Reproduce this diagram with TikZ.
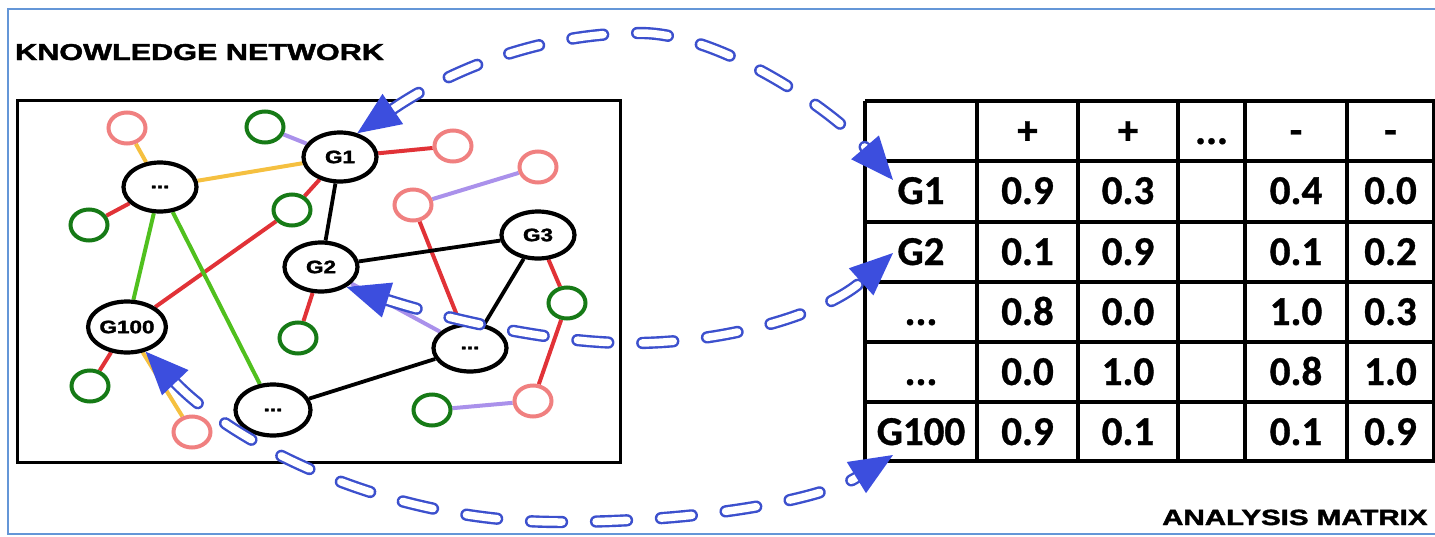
\documentclass[tikz,border=0pt]{standalone}
\usepackage{fontspec}
\usetikzlibrary{shapes.geometric,arrows.meta}
\newfontfamily\lsans{Liberation Sans}[FakeBold=1.6]
\newfontfamily\tabfont{Carlito}[FakeBold=0.8]
\definecolor{cpink}{RGB}{240,128,128}
\definecolor{cdgreen}{RGB}{22,122,22}
\definecolor{cred}{RGB}{225,50,55}
\definecolor{cyellow}{RGB}{245,192,64}
\definecolor{clav}{RGB}{170,145,235}
\definecolor{cgreen}{RGB}{80,192,30}
\definecolor{cablue}{RGB}{60,80,205}
\definecolor{chead}{RGB}{60,78,222}
\definecolor{cframe}{RGB}{100,150,215}
\pgfdeclarelayer{background}
\pgfsetlayers{background,main}
\begin{document}
\begin{tikzpicture}[x=1pt,y=-1pt,
  big/.style={ellipse, draw=black, line width=4.2pt, fill=white, inner sep=0pt,
    minimum width=73pt, minimum height=49pt,
    font=\lsans\bfseries\fontsize{18}{18}\selectfont},
  small/.style={ellipse, line width=4pt, fill=white, inner sep=0pt,
    minimum width=37pt, minimum height=31pt},
  pinknode/.style={small, draw=cpink},
  greennode/.style={small, draw=cdgreen},
  eblack/.style={draw=black, line width=3.8pt},
  ered/.style={draw=cred, line width=4pt},
  eyellow/.style={draw=cyellow, line width=4pt},
  elav/.style={draw=clav, line width=4pt},
  egreen/.style={draw=cgreen, line width=4pt},
  link/.style={draw=cablue, line width=2.4pt, double=white, double distance=7.5pt,
    dash pattern=on 31pt off 34pt, line cap=round,
    {Triangle[length=43pt,width=36pt,color=chead]}-{Triangle[length=43pt,width=36pt,color=chead]}},
  title/.style={font=\lsans\bfseries, inner sep=0pt, anchor=base west},
  cell/.style={font=\tabfont\bfseries\fontsize{41}{41}\selectfont, inner sep=0pt, anchor=base},
  tabline/.style={draw=black, line width=3.3pt}
]
\useasboundingbox (0,0) rectangle (1435,536);
% outer frame
\draw[cframe, line width=1.6pt] (8,9) rectangle (1450,534);
% titles
\node[title] (kn) at (15,60) {\fontsize{23}{23}\selectfont\scalebox{1.33}[1]{KNOWLEDGE NETWORK}};
\node[title] (am) at (1162,525) {\fontsize{22}{22}\selectfont\scalebox{1.34}[1]{ANALYSIS MATRIX}};
% network box
\draw[black, line width=3pt] (17,100) rectangle (620,462);
% big nodes
\node[big] (dTL) at (160,187) {\scalebox{1.25}[1]{...}};
\node[big] (G1) at (340,157) {\scalebox{1.25}[1]{G1}};
\node[big] (G2) at (321,267) {\scalebox{1.25}[1]{G2}};
\node[big, minimum height=47pt] (G3) at (538,235) {\scalebox{1.25}[1]{G3}};
\node[big, minimum width=76pt, minimum height=51pt] (G100) at (127,327) {\scalebox{1.25}[1]{G100}};
\node[big, minimum width=75pt, minimum height=51pt] (dB) at (273,410) {\scalebox{1.25}[1]{...}};
\node[big, minimum height=47pt] (dR) at (470,348) {\scalebox{1.25}[1]{...}};
% small nodes
\node[pinknode] (pk1) at (127,128) {};
\node[greennode] (gr1) at (265,127) {};
\node[greennode] (gr2) at (89,225) {};
\node[greennode] (gr3) at (292,210) {};
\node[pinknode] (pk2) at (453,146) {};
\node[pinknode] (pk3) at (538,167) {};
\node[pinknode] (pk4) at (413,205) {};
\node[greennode] (gr4) at (298,338) {};
\node[greennode] (gr5) at (90,386) {};
\node[pinknode] (pk5) at (192,432) {};
\node[greennode] (gr6) at (567,303) {};
\node[pinknode] (pk6) at (533,401) {};
\node[greennode] (gr7) at (432,410) {};
% edges
\begin{pgfonlayer}{background}
\draw[eyellow] (pk1) -- (dTL);
\draw[eyellow] (dTL) -- (G1);
\draw[eyellow] (G100) -- (pk5);
\draw[elav] (gr1) -- (G1);
\draw[elav] (pk4) -- (pk3);
\draw[elav] (G2) -- (dR);
\draw[elav] (gr7) -- (pk6);
\draw[ered] (gr2) -- (dTL);
\draw[ered] (G1) -- (gr3);
\draw[ered] (gr3) -- (G100);
\draw[ered] (G1) -- (pk2);
\draw[ered] (pk4) -- (dR);
\draw[ered] (G3) -- (gr6);
\draw[ered] (gr6) -- (pk6);
\draw[ered] (G2) -- (gr4);
\draw[ered] (G100) -- (gr5);
\draw[egreen] (dTL) -- (G100);
\draw[egreen] (dTL) -- (dB);
\draw[eblack] (G1) -- (G2);
\draw[eblack] (G2) -- (G3);
\draw[eblack] (G3) -- (dR);
\draw[eblack] (dB) -- (dR);
\end{pgfonlayer}
% table grid
\foreach \yy in {101,161,222,282,342,402,461} \draw[tabline] (865,\yy) -- (1440,\yy);
\foreach \xx in {865,977,1078,1178,1245,1347,1434} \draw[tabline] (\xx,101) -- (\xx,461);
% table header
\node[cell] (h2) at (1027.5,144) {+};
\node[cell] (h3) at (1128,144) {+};
\node[cell] (h4) at (1211.5,144) {...};
\node[cell] (h5) at (1296,144) {-};
\node[cell] (h6) at (1390.5,144) {-};
% row G1
\node[cell] (lG1) at (921,204) {G1};
\node[cell] (a12) at (1027.5,204) {0.9};
\node[cell] (a13) at (1128,204) {0.3};
\node[cell] (a15) at (1296,204) {0.4};
\node[cell] (a16) at (1390.5,204) {0.0};
% row G2
\node[cell] (lG2) at (921,265) {G2};
\node[cell] (a22) at (1027.5,265) {0.1};
\node[cell] (a23) at (1128,265) {0.9};
\node[cell] (a25) at (1296,265) {0.1};
\node[cell] (a26) at (1390.5,265) {0.2};
% row ...
\node[cell] (l3) at (921,325) {...};
\node[cell] (a32) at (1027.5,325) {0.8};
\node[cell] (a33) at (1128,325) {0.0};
\node[cell] (a35) at (1296,325) {1.0};
\node[cell] (a36) at (1390.5,325) {0.3};
% row ...
\node[cell] (l4) at (921,385) {...};
\node[cell] (a42) at (1027.5,385) {0.0};
\node[cell] (a43) at (1128,385) {1.0};
\node[cell] (a45) at (1296,385) {0.8};
\node[cell] (a46) at (1390.5,385) {1.0};
% row G100
\node[cell] (lG100) at (921,445) {G100};
\node[cell] (a52) at (1027.5,445) {0.9};
\node[cell] (a53) at (1128,445) {0.1};
\node[cell] (a55) at (1296,445) {0.1};
\node[cell] (a56) at (1390.5,445) {0.9};
% arrow targets
\coordinate (tG1) at (893,180);
\coordinate (tG2) at (893,253);
\coordinate (tG100) at (893,455);
% arrows
\draw[link] (G1.54) .. controls (450,70) and (540,33) .. (640,33) .. controls (720,33) and (833,110) .. (tG1);
\draw[link] (G2.-38) .. controls (450,320) and (560,345) .. (640,343) .. controls (740,341) and (830,310) .. (tG2);
\draw[link] (G100.-53) .. controls (230,440) and (380,522) .. (560,522) .. controls (700,522) and (820,500) .. (tG100);
\end{tikzpicture}
\end{document}
